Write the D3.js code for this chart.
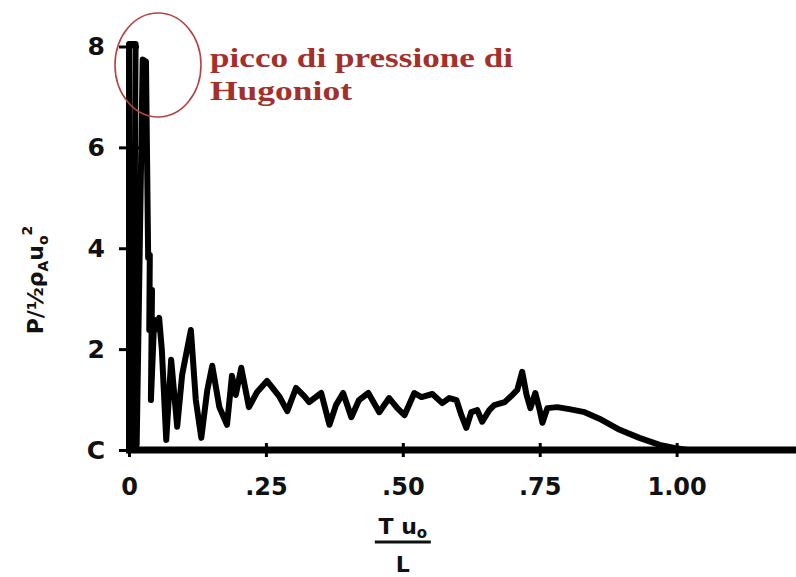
<!DOCTYPE html>
<html>
<head>
<meta charset="utf-8">
<script src="https://cdn.jsdelivr.net/npm/d3@7"></script>
<style>
  html, body { margin: 0; padding: 0; background: #fff; }
  svg { display: block; }
</style>
</head>
<body>
<svg id="chart" width="796" height="577"></svg>
<script>
// ---- data ----
const xTicks = [0, 0.25, 0.5, 0.75, 1.0];
const xTickLabels = ["0", ".25", ".50", ".75", "1.00"];
const yTicks = [0, 2, 4, 6, 8];
const yTickLabels = ["C", "2", "4", "6", "8"];

const signalX = [0, 0, 0.012, 0.008, 0.014, 0.025, 0.031, 0.035, 0.038, 0.037,
  0.042, 0.040, 0.046, 0.048, 0.055, 0.060, 0.068, 0.077, 0.088, 0.097,
  0.113, 0.122, 0.132, 0.143, 0.152, 0.165, 0.179, 0.188, 0.195, 0.205,
  0.219, 0.234, 0.252, 0.274, 0.289, 0.305, 0.320, 0.329, 0.351, 0.366,
  0.378, 0.391, 0.406, 0.420, 0.437, 0.457, 0.475, 0.490, 0.503, 0.521,
  0.534, 0.554, 0.572, 0.585, 0.598, 0.607, 0.616, 0.625, 0.636, 0.645,
  0.658, 0.667, 0.686, 0.698, 0.709, 0.718, 0.726, 0.733, 0.742, 0.750,
  0.755, 0.764, 0.782, 0.804, 0.832, 0.859, 0.896, 0.932, 0.969, 0.996, 1.02];
const signalY = [0, 8.05, 8.05, 0.06, 0.1, 7.74, 7.7, 3.81, 3.87, 2.38,
  3.17, 0.99, 2.58, 2.38, 2.62, 1.98, 0.2, 1.79, 0.46, 1.49,
  2.38, 0.99, 0.24, 1.19, 1.67, 0.85, 0.5, 1.47, 1.09, 1.63,
  0.85, 1.15, 1.37, 1.07, 0.77, 1.23, 1.07, 0.95, 1.13, 0.5,
  0.89, 1.13, 0.65, 0.99, 1.13, 0.75, 1.03, 0.83, 0.69, 1.13,
  1.05, 1.11, 0.93, 1.03, 0.99, 0.69, 0.44, 0.75, 0.79, 0.56,
  0.79, 0.89, 0.95, 1.07, 1.19, 1.55, 1.09, 0.83, 1.13, 0.79,
  0.54, 0.83, 0.85, 0.81, 0.75, 0.62, 0.40, 0.24, 0.10, 0.04, 0];

const annotationLines = ["picco di pressione di", "Hugoniot"];

// ---- scales ----
const svg = d3.select("#chart");
const x = d3.scaleLinear().domain([0, 1.218]).range([129, 796]);
const y = d3.scaleLinear().domain([0, 8]).range([450, 46.5]);

const tickFont = "'DejaVu Sans', sans-serif";

// ---- x axis ----
const xAxis = d3.axisBottom(x)
  .tickValues(xTicks)
  .tickFormat((d, i) => xTickLabels[i])
  .tickSize(0)
  .tickPadding(28);
const gx = svg.append("g").attr("transform", `translate(0,${y(0)})`).call(xAxis);
gx.select(".domain").attr("stroke", "#000").attr("stroke-width", 7)
  .attr("d", `M${x(0) - 3},0H796`);
gx.selectAll(".tick line").attr("y1", -7).attr("y2", 7)
  .attr("stroke", "#000").attr("stroke-width", 3);
gx.selectAll(".tick text")
  .attr("font-family", tickFont).attr("font-weight", "bold")
  .attr("font-size", 24).attr("fill", "#111");

// ---- y axis ----
const yAxis = d3.axisLeft(y)
  .tickValues(yTicks)
  .tickFormat((d, i) => yTickLabels[i])
  .tickSize(0)
  .tickPadding(24);
const gy = svg.append("g").attr("transform", `translate(${x(0)},0)`).call(yAxis);
gy.select(".domain").remove();
gy.selectAll(".tick line").attr("x1", -10).attr("x2", 10)
  .attr("stroke", "#000").attr("stroke-width", 3);
gy.selectAll(".tick text")
  .attr("font-family", tickFont).attr("font-weight", "bold")
  .attr("font-size", 25).attr("fill", "#111");

// ---- signal ----
const pts = signalX.map((d, i) => [d, signalY[i]]);
svg.append("path")
  .datum(pts)
  .attr("fill", "none")
  .attr("stroke", "#000")
  .attr("stroke-width", 6)
  .attr("stroke-linejoin", "round")
  .attr("stroke-linecap", "round")
  .attr("d", d3.line().x(d => x(d[0])).y(d => y(d[1])));

// ---- axis titles ----
const xt = svg.append("g").attr("font-family", tickFont).attr("font-weight", "bold").attr("fill", "#111");
const xtTxt = xt.append("text").attr("x", x(0.5)).attr("y", 534)
  .attr("text-anchor", "middle").attr("font-size", 22);
xtTxt.append("tspan").text("T u");
xtTxt.append("tspan").attr("font-size", 15).attr("dy", 4).text("o");
xt.append("line").attr("x1", x(0.5) - 28).attr("x2", x(0.5) + 28)
  .attr("y1", 542).attr("y2", 542).attr("stroke", "#111").attr("stroke-width", 3);
xt.append("text").attr("x", x(0.5)).attr("y", 572)
  .attr("text-anchor", "middle").attr("font-size", 22).text("L");

const ytTxt = svg.append("text")
  .attr("transform", `translate(43,280) rotate(-90)`)
  .attr("text-anchor", "middle")
  .attr("font-family", tickFont).attr("font-weight", "bold")
  .attr("font-size", 22).attr("fill", "#111");
ytTxt.append("tspan").text("P/½ρ");
ytTxt.append("tspan").attr("font-size", 14).attr("dy", 5).text("A");
ytTxt.append("tspan").attr("dy", -5).text("u");
ytTxt.append("tspan").attr("font-size", 14).attr("dy", 5).text("o");
ytTxt.append("tspan").attr("font-size", 14).attr("dy", -16).text("2");

// ---- annotation ----
svg.append("ellipse")
  .attr("cx", 158).attr("cy", 65).attr("rx", 43).attr("ry", 52)
  .attr("fill", "none").attr("stroke", "#b04545").attr("stroke-width", 1.6);

const ann = svg.append("g")
  .attr("font-family", "'Liberation Serif', 'Times New Roman', serif")
  .attr("font-weight", "bold").attr("font-size", 28).attr("fill", "#a3302b");
ann.append("text").attr("x", 210).attr("y", 67)
  .attr("textLength", 303).attr("lengthAdjust", "spacingAndGlyphs")
  .text(annotationLines[0]);
ann.append("text").attr("x", 210).attr("y", 100)
  .attr("textLength", 142).attr("lengthAdjust", "spacingAndGlyphs")
  .text(annotationLines[1]);
</script>
</body>
</html>
